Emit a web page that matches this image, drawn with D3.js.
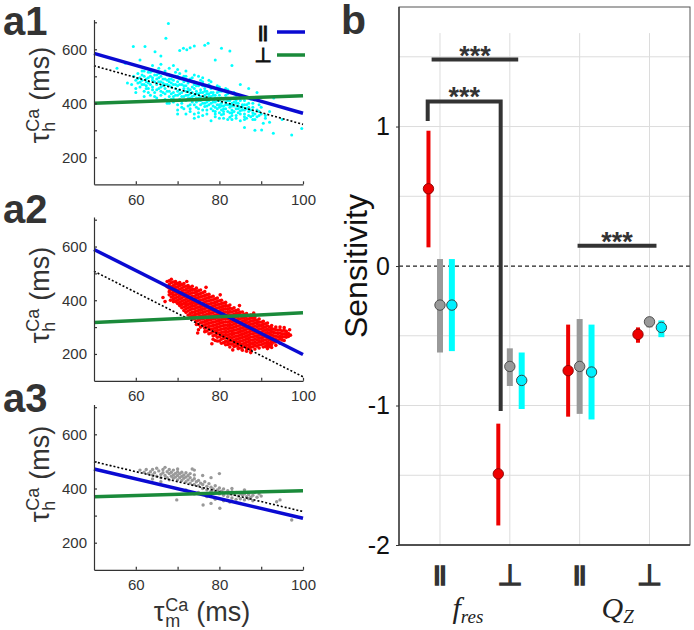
<!DOCTYPE html>
<html><head><meta charset="utf-8">
<script src="https://cdn.jsdelivr.net/npm/d3@7"></script>
<style>body{margin:0;background:#fff}svg{display:block}</style>
</head><body>
<svg id="c" width="694" height="630"></svg>
<script>
// ---------------- DATA ----------------
// a-panels: tau_m (x, ms) vs tau_h (y, ms)
const lineX = [50, 100];
const a1Par = [585, 363], a1Perp = [400, 428], a1Dot = [539, 322];
const a2Par = [589, 198], a2Perp = [317, 353], a2Dot = [508, 115];
const a3Par = [472, 290], a3Perp = [370, 392], a3Dot = [499, 315];
const aXTicks = [60, 70, 80, 90, 100];
const aXLabels = [60, 80, 100];
const aYTicks = [200, 300, 400, 500, 600, 700];
const aYLabels = [200, 400, 600];

const a1Cyan = [
[67.8,696],[67.2,641],[71.4,604],[72.2,598],[73.0,606],[70.5,596],[74.0,612],[77.3,622],[76.5,615],[80.5,604],[82.5,594],[59.4,610],[62.2,610],[64.6,591],[66,575],[61,560],[57.5,548],[55.5,530],
[90.1,301],[92.9,289],[97.3,283],[99.7,307],[88.5,300],[86,310],[92,330],[95,340],[91,355],[87,455],[89,440],[93,420],[79,560],[83,540],[85,470],
[59,470],[59.5,500],[60,485],[60,455],[60.5,510],[60.5,475],[61,495],[61,460],[61.5,520],[61.5,485],[62,470],[62,500],[62,445],[62.5,490],[63,515],[63,475],[63,455],[63.5,500],[63.5,430],
[64,485],[64,460],[64,520],[64.5,440],[64.5,505],[65,470],[65,490],[65,420],[65.5,455],[65.5,530],[66,480],[66,445],[66,500],[66.5,465],[66.5,410],[67,490],[67,455],[67,520],[67,435],
[67.5,470],[67.5,400],[68,480],[68,445],[68,505],[68,425],[68.5,460],[68.5,490],[69,470],[69,440],[69,415],[69,540],[69.5,455],[69.5,500],[70,465],[70,430],[70,480],[70,395],[70,360],
[70.5,450],[70.5,415],[70.5,510],[71,470],[71,440],[71,400],[71,490],[71.5,455],[71.5,425],[71.5,380],[72,445],[72,465],[72,410],[72,500],[72.5,430],[72.5,390],[72.5,475],
[73,450],[73,420],[73,370],[73,490],[73.5,440],[73.5,405],[73.5,460],[74,430],[74,455],[74,395],[74,480],[74,360],[74.5,420],[74.5,445],[74.5,385],[75,435],[75,410],[75,465],[75,350],[75,500],
[75.5,425],[75.5,395],[75.5,450],[76,415],[76,440],[76,375],[76,480],[76.5,430],[76.5,400],[76.5,455],[77,420],[77,390],[77,445],[77,360],[77.5,410],[77.5,435],[77.5,470],
[78,425],[78,400],[78,380],[78,455],[78.5,415],[78.5,390],[78.5,440],[79,405],[79,430],[79,370],[79,350],[79.5,420],[79.5,395],[79.5,465],[80,410],[80,385],[80,430],[80,345],
[80.5,400],[80.5,375],[80.5,445],[81,415],[81,390],[81,360],[81.5,405],[81.5,380],[81.5,430],[82,395],[82,370],[82,420],[82,340],[82.5,385],[82.5,410],[83,400],[83,375],[83,355],
[83.5,390],[83.5,420],[84,380],[84,400],[84,345],[84.5,390],[84.5,365],[85,385],[85,410],[85,335],[85.5,375],[86,395],[86,360],[86.5,380],[87,370],[87,400],[87.5,350],[88,385],[88,365],
[88.5,340],[89,375],[89.5,355],[90,360],[90.5,326],[91,345],[92,370],
[61,478],[62.5,465],[63,495],[64,450],[65,505],[65.5,480],[66,460],[66.5,490],[67,470],[67.5,445],[68,465],[68.5,435],[69,485],[69.5,430],[70,445],[70.5,470],[71,425],[71.5,480],
[72,430],[72.5,455],[73,435],[73.5,480],[74,415],[74.5,465],[75,420],[75.5,440],[76,400],[76.5,420],[77,435],[77.5,395],[78,440],[78.5,405],[79,420],[79.5,380],[80,395],[80.5,420],
[81,380],[81.5,395],[82,410],[82.5,365],[83,390],[83.5,370],[84,410],[84.5,380],[85,360],[85.5,395],[86,375],[86.5,345],[87,385],[88,355],[66,430],[68,400],[70,375],[72,360],[74,345],
[76,355],[78,335],[80,365],[83,340],[86,340],[62,520],[64,540],[66,545],[68,530],[70,525],[72,520],[74,505],[76,495],[78,480],[80,460],[82,450],[84,430],[86,420],[88,400],[90,385],
[58,475],[60,440],[62,425],
[60.5,492],[61.5,470],[62.5,480],[63.5,470],[64.5,480],[65.5,495],[66.5,475],[67.5,485],[68.5,475],[69.5,470],[70.5,490],[71.5,465],[72.5,445],[73.5,425],[74.5,435],[75.5,410],
[76.5,445],[77.5,425],[78.5,430],[79.5,410],[80.5,390],[81.5,420],[82.5,395],[83.5,405],[84.5,400],[85.5,385],[86.5,395],[87.5,375],[88.5,360],[89.5,370],
[63,440],[65,450],[67,415],[69,425],[71,410],[73,395],[75,380],[77,405],[79,385],[81,370],[83,365],[85,372],[87,355],[89,350],
[64,495],[66,515],[68,490],[70,500],[72,485],[74,470],[76,465],[78,460],[80,445],[82,435],[84,420],[86,410],
[69,405],[71,385],[73,380],[75,365],[77,375],[79,360],[81,345],[84,355],[86,350],[88,340],
[62.5,455],[64.5,425],[66.5,440],[68.5,415],[70.5,435],[72.5,418],[74.5,405],[76.5,388],[78.5,372],[80.5,358],[82.5,348],
[61.5,505],[63.5,515],[65.5,510],[67.5,505],[69.5,515],[71.5,500],[73.5,495],[75.5,485],[77.5,485],[79.5,440],[81.5,455],[83.5,440],[85.5,425],[87.5,415],[89.5,395]
];

// a2 red cloud: each row = [x, list of y values]
const a2Red = [
[67.5,[470,450]],[68,[472,458,445,432,420]],[68.5,[465,450,438,425,412]],[69,[468,455,443,430,418,405]],
[69.5,[460,447,433,420,408,395]],[70,[462,450,438,425,412,400,388]],[70.5,[455,442,430,418,405,392]],
[71,[458,445,432,420,408,396,384,372]],[71.5,[450,437,425,413,400,388,375]],[72,[452,440,428,416,404,392,380,368,355]],
[72.5,[445,432,420,408,396,384,372,360]],[73,[448,436,424,412,400,388,376,364,350,338]],[73.5,[440,428,416,404,392,380,368,355,342]],
[74,[440,428,415,403,391,379,367,355,343,330]],[74.5,[432,420,408,396,384,372,360,348,335,322]],
[75,[435,422,410,398,386,374,362,350,338,326,310,290]],[75.5,[425,413,401,389,377,365,353,341,329,316]],
[76,[428,415,402,390,378,366,354,342,330,318,305]],[76.5,[418,405,393,381,369,357,345,333,321,309,296]],
[77,[420,408,396,384,372,360,348,336,324,312,300,285]],[77.5,[410,398,386,374,362,350,338,326,314,302,290]],
[78,[412,400,388,376,364,352,340,328,316,304,292,278]],[78.5,[402,390,378,366,354,342,330,318,306,294,282,268]],
[79,[405,392,380,368,356,344,332,320,308,296,284,270,250]],[79.5,[395,383,371,359,347,335,323,311,299,287,275,262]],
[80,[398,385,373,361,349,337,325,313,301,289,277,264,248]],[80.5,[388,376,364,352,340,328,316,304,292,280,268,255]],
[81,[390,378,366,354,342,330,318,306,294,282,270,258,242]],[81.5,[380,368,356,344,332,320,308,296,284,272,260,247]],
[82,[378,366,354,342,330,318,306,294,282,270,258,245,235]],[82.5,[370,358,346,334,322,310,298,286,274,262,250,238]],
[83,[368,356,344,332,320,308,296,284,272,260,248,236]],[83.5,[360,348,336,324,312,300,288,276,264,252,240]],
[84,[362,350,338,326,314,302,290,278,266,254,242,230]],[84.5,[352,340,328,316,304,292,280,268,256,244,232]],
[85,[355,343,331,319,307,295,283,271,259,247,235,222]],[85.5,[345,333,321,309,297,285,273,261,249,237,225]],
[86,[348,336,324,312,300,288,276,264,252,240,228]],[86.5,[340,328,316,304,292,280,268,256,244,232,220]],
[87,[342,330,318,306,294,282,270,258,246,234,222]],[87.5,[335,323,311,299,287,275,263,251,239,227,215]],
[88,[335,323,311,299,287,275,263,251,239,227]],[88.5,[328,316,304,292,280,268,256,244,232]],
[89,[325,313,301,289,277,265,253,241,229]],[89.5,[318,306,294,282,270,258,246,234]],
[90,[318,306,294,282,270,258,246,234]],[90.5,[310,298,286,274,262,250,238]],[91,[312,300,288,276,264,252,240,228]],
[91.5,[304,292,280,268,256,244,232]],[92,[300,288,276,264,252,240,228]],[92.5,[295,283,271,259,247,235]],
[93,[292,280,268,256,244]],[93.5,[290,278,266,254,245]],[94,[288,276,264,252]],[94.5,[290,278,266,256]],
[95,[285,273,262,252]],[95.5,[288,275,264]],[96,[284,272,262]],[96.5,[276,265]],
[66.5,[410]],[67,[395]],[68.3,[400]],[96.8,[290]],[97,[270]]
];
// scattered red points along the cloud's edges
const a2RedEdge = [
[68.5,478],[69.5,470],[70.5,466],[71.5,462],[72.5,455],[73.5,452],[74.5,445],[75.5,438],[76.5,432],[77.5,422],[78.5,415],[79.5,408],[80.5,400],[81.5,392],[82.5,382],[83.5,372],
[84.5,364],[85.5,356],[86.5,350],[87.5,345],[88.5,338],[89.5,330],[90.5,322],[91.5,315],[92.5,306],[93.5,300],[94.5,300],[95.5,298],
[69,395],[70.5,380],[71.5,362],[72.5,345],[73.5,330],[74.5,310],[75.5,300],[76.5,283],[77.5,275],[78.5,255],[79.5,248],[80.5,240],[81.5,234],[82.5,226],[83.5,228],[84.5,220],
[85.5,214],[86.5,210],[87.5,205],[88.5,218],[89.5,222],[90.5,226],[91.5,220],[92.5,224],[93.5,232],[94.5,240],[95.5,250],
[72.2,470],[76.8,448],[80.2,420],[84.8,380],[88.2,352],[74.8,278],[78.2,238],[83.2,215],[87.2,228],[91.8,238]
];

const a3Gray = [
[61,468],[62,460],[62.5,470],[63,455],[63.5,462],[64,450],[64,470],[64.5,458],[65,445],[65,475],[65.5,465],[66,452],[66,440],[66.5,470],[66.5,458],[67,448],[67,478],[67.5,462],[67.5,440],
[68,455],[68,432],[68,470],[68.5,445],[68.5,460],[69,450],[69,438],[69,468],[69.5,442],[69.5,456],[70,448],[70,432],[70,462],[70,472],[70.5,440],[70.5,455],[71,445],[71,430],[71,460],
[71.5,438],[71.5,450],[72,442],[72,425],[72,458],[72.5,432],[72.5,448],[73,440],[73,420],[73,455],[73.5,430],[74,436],[74,415],[74,468],[74.5,425],[75,430],[75,410],[75.5,420],
[76,415],[76,400],[76.5,425],[77,408],[77,395],[77.5,418],[78,405],[78,390],[78.5,398],[79,410],[79,385],[79.5,395],[80,402],[80,380],[80,455],[80.5,390],[81,398],[81,375],
[81.5,385],[82,392],[82,370],[82.5,380],[83,388],[83,365],[83.5,378],[84,385],[84,360],[84.5,372],[85,382],[85,362],[85.5,375],[86,380],[86,358],[86.5,370],[87,378],[87,362],
[87.5,368],[88,375],[88,355],[88.5,385],[89,368],[89.5,380],[90,372],[94.5,358],[93.7,351],[97.3,284],[69.8,358],[80.1,327],[76.1,339],[78,345],[82.5,350],[74,380],[72,395],
[66,425],[64,435],[73.5,472],[75,385],[77,370],[79,360],[81,355],[85,345],[86,395],[83,400],[76,448],[78,440],[74,450]
];

// b-panel: sensitivity
const bCats = ['||', '\u22A5', '||', '\u22A5'];
const bPos = [1, 2, 3, 4];
const redMean  = [0.554, -1.49, -0.75, -0.49];
const redLo    = [0.134, -1.86, -1.08, -0.55];
const redHi    = [0.97, -1.13, -0.42, -0.44];
const grayMean = [-0.28, -0.72, -0.72, -0.40];
const grayLo   = [-0.62, -0.86, -1.06, -0.44];
const grayHi   = [0.05, -0.59, -0.38, -0.37];
const cyanMean = [-0.28, -0.82, -0.76, -0.44];
const cyanLo   = [-0.61, -1.025, -1.10, -0.51];
const cyanHi   = [0.05, -0.62, -0.42, -0.39];
const bYTicks = [-2, -1, 0, 1];
const bGrid = [-1.5, -1, -0.5, 0.5, 1, 1.5];
const sigBars = [
  {x0: 0.88, x1: 2.12, y: 1.48},
  {x0: 0.824, x1: 1.869, y: 1.18, leg0: 1.04, leg1: -1.04},
  {x0: 2.97, x1: 4.1, y: 0.145}
];

// ---------------- DRAW ----------------
const SANS = "'Liberation Sans', Arial, sans-serif";
const SERIF = "'Liberation Serif', 'Times New Roman', serif";
const DARK = '#333';
const svg = d3.select('#c');

function tauLabel(parent, sub, fMain, fSmall, gap) {
  const g = parent.append('g').attr('font-family', SANS).attr('fill', DARK);
  const t1 = g.append('text').attr('font-size', fMain).text('\u03C4');
  const w1 = t1.node().getComputedTextLength();
  const sp = g.append('text').attr('font-size', fSmall).attr('x', w1 + 1).attr('y', -10).text('Ca');
  const sb = g.append('text').attr('font-size', fSmall).attr('x', w1 + 1).attr('y', 6).text(sub);
  const w2 = Math.max(sp.node().getComputedTextLength(), sb.node().getComputedTextLength());
  const t3 = g.append('text').attr('font-size', fMain).attr('x', w1 + w2 + gap).text('(ms)');
  const total = w1 + w2 + gap + t3.node().getComputedTextLength();
  return {g, total};
}

const panels = [
  {name: 'a1', pts: a1Cyan, color: '#00ffff', r: 1.5, par: a1Par, perp: a1Perp, dot: a1Dot, yr: [184.3, 19.6], nameY: 35, labY: 95, legend: true},
  {name: 'a2', pts: a2Red.flatMap(([x, ys]) => ys.map(y => [x, y])).concat(a2RedEdge), color: '#ff0000', r: 1.8, par: a2Par, perp: a2Perp, dot: a2Dot, yr: [380.8, 217], nameY: 223, labY: 295},
  {name: 'a3', pts: a3Gray, color: '#999999', r: 1.7, par: a3Par, perp: a3Perp, dot: a3Dot, yr: [569.8, 404.5], nameY: 412, labY: 474, xlabel: true}
];

panels.forEach(p => {
  const x = d3.scaleLinear().domain([50, 100]).range([94, 303]);
  const y = d3.scaleLinear().domain([100, 710]).range(p.yr);
  const g = svg.append('g');
  g.append('g').selectAll('circle').data(p.pts).join('circle')
    .attr('cx', d => x(d[0])).attr('cy', d => y(d[1])).attr('r', p.r).attr('fill', p.color);
  const line = d3.line().x(d => x(d[0])).y(d => y(d[1]));
  const mk = arr => lineX.map((xx, i) => [xx, arr[i]]);
  g.append('path').attr('d', line(mk(p.dot))).attr('stroke', '#000').attr('stroke-width', 1.6)
    .attr('stroke-dasharray', '2,2').attr('fill', 'none');
  g.append('path').attr('d', line(mk(p.par))).attr('stroke', '#0a0ad2').attr('stroke-width', 3.5).attr('fill', 'none');
  g.append('path').attr('d', line(mk(p.perp))).attr('stroke', '#1a8a3a').attr('stroke-width', 3.5).attr('fill', 'none');
  const xa = d3.axisBottom(x).tickValues(aXTicks).tickSizeInner(-3).tickSizeOuter(0).tickPadding(10)
    .tickFormat(d => aXLabels.includes(d) ? d : '');
  const ya = d3.axisLeft(y).tickValues(aYTicks).tickSizeInner(-3).tickSizeOuter(0).tickPadding(7)
    .tickFormat(d => aYLabels.includes(d) ? d : '');
  const gx = g.append('g').attr('transform', `translate(0,${p.yr[0]})`).call(xa);
  const gy = g.append('g').attr('transform', 'translate(94,0)').call(ya);
  [gx, gy].forEach(a => {
    a.selectAll('path,line').attr('stroke', DARK).attr('stroke-width', 1.2);
    a.selectAll('text').attr('font-size', 15).attr('font-family', SANS).attr('fill', DARK);
  });
  svg.append('text').attr('x', 3).attr('y', p.nameY).attr('font-family', SANS).attr('font-weight', 'bold')
    .attr('font-size', 40).attr('fill', DARK).text(p.name);
  const yl = tauLabel(svg, 'h', 27, 18, 9);
  yl.g.attr('transform', `translate(49,${p.labY + yl.total / 2}) rotate(-90)`);
  if (p.xlabel) {
    const xl = tauLabel(svg, 'm', 27, 18, 9);
    xl.g.attr('transform', `translate(${202 - xl.total / 2},621)`);
  }
  if (p.legend) {
    const lg = svg.append('g');
    lg.append('text').attr('x', 263).attr('y', 38).attr('text-anchor', 'middle').attr('font-family', SANS)
      .attr('font-size', 17).attr('font-weight', 'bold').attr('fill', '#111').attr('stroke', '#111').attr('stroke-width', 0.8).text('||');
    lg.append('text').attr('x', 263).attr('y', 62).attr('text-anchor', 'middle').attr('font-family', "'DejaVu Sans'")
      .attr('font-size', 20).attr('fill', '#111').attr('stroke', '#111').attr('stroke-width', 1).text('\u22A5');
    lg.append('line').attr('x1', 277).attr('x2', 305).attr('y1', 32).attr('y2', 32).attr('stroke', '#0a0ad2').attr('stroke-width', 3.5);
    lg.append('line').attr('x1', 277).attr('x2', 305).attr('y1', 55).attr('y2', 55).attr('stroke', '#1a8a3a').attr('stroke-width', 3.5);
  }
});

// ---------- panel b ----------
const xb = d3.scaleLinear().domain([0.413, 4.58]).range([399, 690]);
const yb = d3.scaleLinear().domain([-2, 1.857]).range([545, 7]);
const gb = svg.append('g');
gb.append('g').selectAll('line.v').data(bPos).join('line')
  .attr('x1', d => xb(d)).attr('x2', d => xb(d)).attr('y1', yb(1.67)).attr('y2', yb(-2))
  .attr('stroke', '#dcdcdc').attr('stroke-width', 1);
gb.append('g').selectAll('line.h').data(bGrid).join('line')
  .attr('x1', 399).attr('x2', 690).attr('y1', d => yb(d)).attr('y2', d => yb(d))
  .attr('stroke', '#dcdcdc').attr('stroke-width', 1);
gb.append('line').attr('x1', 399).attr('x2', 690).attr('y1', yb(0)).attr('y2', yb(0))
  .attr('stroke', '#222').attr('stroke-width', 1.3).attr('stroke-dasharray', '4,3');
gb.append('rect').attr('x', 399).attr('y', 7).attr('width', 291).attr('height', 538)
  .attr('fill', 'none').attr('stroke', '#555').attr('stroke-width', 1);
gb.append('line').attr('x1', 399).attr('x2', 399).attr('y1', 7).attr('y2', 545).attr('stroke', DARK).attr('stroke-width', 1.3);
gb.append('line').attr('x1', 399).attr('x2', 690).attr('y1', 545).attr('y2', 545).attr('stroke', DARK).attr('stroke-width', 1.3);
const yAxB = d3.axisLeft(yb).tickValues(bYTicks).tickSize(3).tickPadding(6).tickFormat(d3.format('d'));
const gyb = gb.append('g').attr('transform', 'translate(399,0)').call(yAxB);
gyb.select('.domain').remove();
gyb.selectAll('line').attr('stroke', DARK);
gyb.selectAll('text').attr('font-size', 25).attr('font-family', SANS).attr('fill', '#111').text(d => d < 0 ? '-' + Math.abs(d) : d);

sigBars.forEach(s => {
  let d;
  if (s.leg0 !== undefined) {
    d = `M${xb(s.x0)},${yb(s.leg0)}V${yb(s.y)}H${xb(s.x1)}V${yb(s.leg1)}`;
  } else {
    d = `M${xb(s.x0)},${yb(s.y)}H${xb(s.x1)}`;
  }
  gb.append('path').attr('d', d).attr('fill', 'none').attr('stroke', DARK).attr('stroke-width', 4);
  gb.append('text').attr('x', (xb(s.x0) + xb(s.x1)) / 2).attr('y', yb(s.y) + 5).attr('text-anchor', 'middle')
    .attr('font-family', SANS).attr('font-weight', 'bold').attr('font-size', 27).attr('fill', DARK).text('***');
});

const groups = [
  {mean: redMean, lo: redLo, hi: redHi, off: -0.165, bar: '#ee0000', w: 4, fill: '#ee0000', stroke: '#8a0000'},
  {mean: grayMean, lo: grayLo, hi: grayHi, off: 0, bar: '#999999', w: 6, fill: '#999999', stroke: '#444'},
  {mean: cyanMean, lo: cyanLo, hi: cyanHi, off: 0.17, bar: '#00ffff', w: 6, fill: '#00f0ff', stroke: '#333'}
];
groups.forEach(gr => {
  const data = bPos.map((p, i) => ({x: p + gr.off, m: gr.mean[i], lo: gr.lo[i], hi: gr.hi[i]}));
  gb.append('g').selectAll('line').data(data).join('line')
    .attr('x1', d => xb(d.x)).attr('x2', d => xb(d.x)).attr('y1', d => yb(d.hi)).attr('y2', d => yb(d.lo))
    .attr('stroke', gr.bar).attr('stroke-width', gr.w);
  gb.append('g').selectAll('circle').data(data).join('circle')
    .attr('cx', d => xb(d.x)).attr('cy', d => yb(d.m)).attr('r', 5.2)
    .attr('fill', gr.fill).attr('stroke', gr.stroke).attr('stroke-width', 0.9);
});

bCats.forEach((c, i) => {
  const isPar = c === '||';
  gb.append('text').attr('x', xb(bPos[i])).attr('y', isPar ? 581 : 585).attr('text-anchor', 'middle')
    .attr('font-family', isPar ? SANS : "'DejaVu Sans'").attr('font-size', isPar ? 21 : 29)
    .attr('font-weight', isPar ? 'bold' : 'normal')
    .attr('fill', DARK).attr('stroke', DARK).attr('stroke-width', isPar ? 1.6 : 1.4).text(c);
});
function groupLabel(cx, main, sub) {
  const t = gb.append('text').attr('font-family', SERIF).attr('font-style', 'italic').attr('fill', '#222');
  t.append('tspan').attr('font-size', 30).text(main);
  t.append('tspan').attr('font-size', 19).attr('dy', 5).text(sub);
  const w = t.node().getComputedTextLength();
  t.attr('x', cx - w / 2).attr('y', 618);
}
groupLabel((xb(1) + xb(2)) / 2 - 7, 'f', 'res');
groupLabel((xb(3) + xb(4)) / 2 + 3, 'Q', 'Z');

gb.append('text').attr('transform', `translate(367,${yb(0)}) rotate(-90)`).attr('text-anchor', 'middle')
  .attr('font-family', SANS).attr('font-size', 32).attr('fill', '#111').text('Sensitivity');
svg.append('text').attr('x', 341).attr('y', 34).attr('font-family', SANS).attr('font-weight', 'bold')
  .attr('font-size', 41).attr('fill', DARK).text('b');
</script>
</body></html>
